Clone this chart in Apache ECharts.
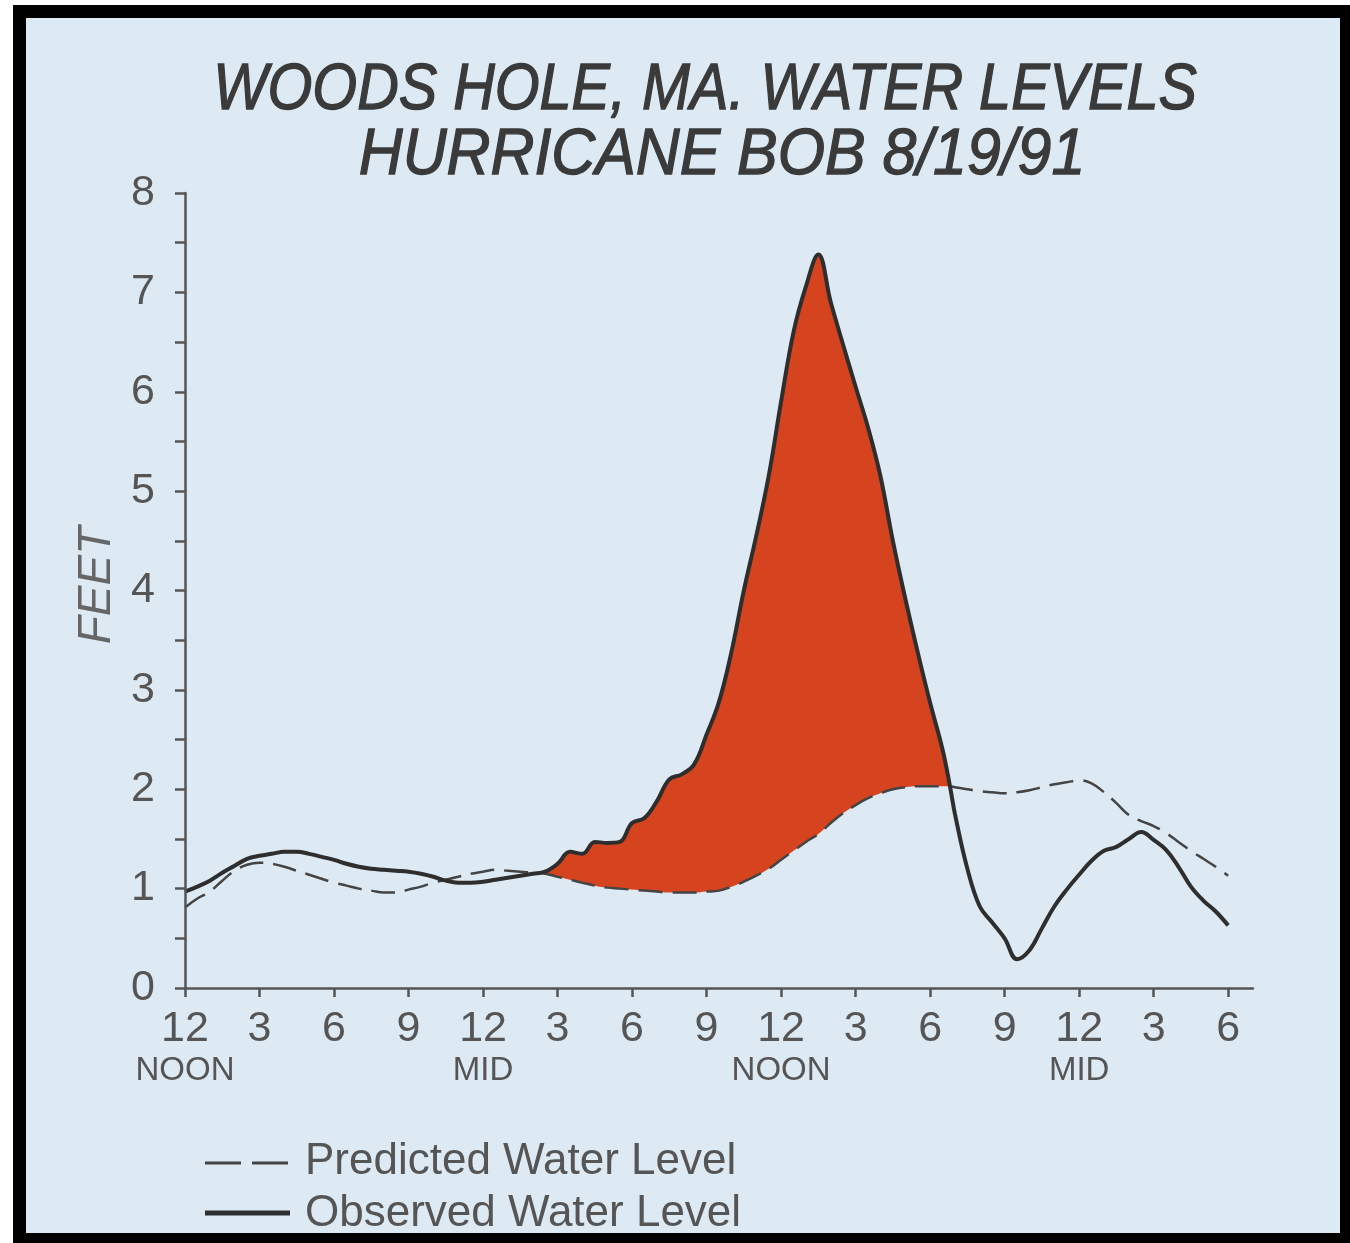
<!DOCTYPE html>
<html>
<head>
<meta charset="utf-8">
<script src="https://cdn.jsdelivr.net/npm/echarts@6/dist/echarts.min.js"></script>
<style>
html,body{margin:0;padding:0;background:#fff;}
#chart{width:1350px;height:1243px;}
</style>
</head>
<body>
<div id="chart"></div>
<script>
// ---- data (hours after 12 noon 8/18/91, feet) ----
const HOURS = [0,0.5,1,1.5,2,2.5,3,3.5,4,4.5,5,5.5,6,6.5,7,7.5,8,8.5,9,9.5,10,10.5,11,11.5,12,12.5,13,13.5,14,14.5,15,15.5,16,16.5,17,17.5,18,18.5,19,19.5,20,20.5,21,21.5,22,22.5,23,23.5,24,24.5,25,25.5,26,26.5,27,27.5,28,28.5,29,29.5,30,30.5,30.8,31,31.5,32,32.5,33,33.5,34,34.5,35,35.5,36,36.5,37,37.5,38,38.5,39,39.5,40,40.5,41,41.5,42];
const OBSERVED = [0.97,1.02,1.08,1.16,1.23,1.30,1.33,1.35,1.37,1.37,1.35,1.32,1.29,1.25,1.22,1.20,1.19,1.18,1.17,1.15,1.12,1.08,1.06,1.06,1.07,1.09,1.11,1.13,1.15,1.17,1.25,1.37,1.35,1.47,1.46,1.47,1.66,1.71,1.88,2.10,2.15,2.25,2.55,2.88,3.38,4.00,4.55,5.15,5.90,6.60,7.06,7.38,6.90,6.47,6.05,5.64,5.15,4.50,3.92,3.38,2.87,2.40,2.03,1.75,1.20,0.82,0.66,0.50,0.29,0.38,0.60,0.82,0.99,1.14,1.28,1.38,1.42,1.50,1.57,1.49,1.39,1.22,1.02,0.88,0.77,0.63];
const PREDICTED = [0.81,0.90,0.97,1.08,1.18,1.24,1.26,1.25,1.22,1.18,1.14,1.10,1.06,1.03,1.00,0.98,0.96,0.96,0.99,1.02,1.06,1.09,1.12,1.15,1.17,1.19,1.18,1.17,1.16,1.15,1.12,1.09,1.06,1.03,1.01,1.00,0.99,0.98,0.97,0.96,0.96,0.96,0.97,0.98,1.02,1.07,1.13,1.20,1.29,1.38,1.47,1.55,1.66,1.76,1.84,1.91,1.96,2.00,2.02,2.03,2.03,2.03,2.03,2.02,2.00,1.98,1.97,1.96,1.97,1.99,2.02,2.05,2.07,2.09,2.06,1.97,1.86,1.74,1.68,1.63,1.56,1.47,1.38,1.30,1.22,1.13];
const SURGE_START = 14.5;   // hour where observed departs from predicted
const SURGE_END = 30.8;     // hour where observed falls back below predicted
const TICK_HOURS = [0,3,6,9,12,15,18,21,24,27,30,33,36,39,42];
const TICK_LABELS = ['12','3','6','9','12','3','6','9','12','3','6','9','12','3','6'];
const TICK_SUBLABELS = ['NOON','','','','MID','','','','NOON','','','','MID','',''];
const TITLE_LINES = ['WOODS HOLE, MA. WATER LEVELS', 'HURRICANE BOB 8/19/91'];
const LEGEND_NAMES = ['Predicted Water Level', 'Observed Water Level'];

// ---- style ----
const BG = '#dde9f3';
const INK = '#555555';
const FONT = '"Liberation Sans", Arial, sans-serif';
const RED = '#d6441f';

const obsPts = HOURS.map((h, i) => [h, OBSERVED[i]]);
const predPts = HOURS.map((h, i) => [h, PREDICTED[i]]);
const surgeTop = HOURS.map((h, i) => [h, (h >= SURGE_START && h <= SURGE_END) ? OBSERVED[i] : null]);
// mask reaches one sample further on each side so no seam is left at the edges of the red band
const surgeBase = HOURS.map((h, i) => [h, (h >= SURGE_START - 0.5 && h <= SURGE_END + 0.7) ? PREDICTED[i] : null]);
const SMOOTH = 0.4;

function titleText(txt, x, y, sx) {
  return {type: 'text', z: 5, x: x, y: y, scaleX: sx, silent: true,
    style: {text: txt, font: 'italic 64px ' + FONT, fill: '#3a3a3a', stroke: '#3a3a3a', lineWidth: 1.3,
      textAlign: 'center', textVerticalAlign: 'middle'}};
}

const chart = echarts.init(document.getElementById('chart'), null, {renderer: 'canvas'});
chart.setOption({
  backgroundColor: '#ffffff',
  animation: false,
  graphic: [
    {type: 'rect', z: -20, silent: true, shape: {x: 13, y: 5, width: 1337, height: 1238}, style: {fill: '#000'}},
    {type: 'rect', z: -19, silent: true, shape: {x: 26, y: 18, width: 1314, height: 1215}, style: {fill: BG}},
    titleText(TITLE_LINES[0], 705, 91, 0.90),
    titleText(TITLE_LINES[1], 722, 156, 0.95),
    // legend
    {type: 'line', z: 5, silent: true, shape: {x1: 205, y1: 1163, x2: 290, y2: 1163},
      style: {stroke: '#444', lineWidth: 3, lineDash: [36, 11]}},
    {type: 'text', z: 5, x: 305, y: 1162, silent: true,
      style: {text: LEGEND_NAMES[0], font: '44px ' + FONT, fill: INK, textVerticalAlign: 'middle'}},
    {type: 'line', z: 5, silent: true, shape: {x1: 205, y1: 1213, x2: 290, y2: 1213},
      style: {stroke: '#2e2e2e', lineWidth: 5}},
    {type: 'text', z: 5, x: 305, y: 1214, silent: true,
      style: {text: LEGEND_NAMES[1], font: '44px ' + FONT, fill: INK, textVerticalAlign: 'middle'}}
  ],
  grid: {left: 185, right: 97, top: 193, bottom: 255},
  xAxis: {
    type: 'value', min: 0, max: 43, z: 10,
    axisLine: {lineStyle: {color: INK, width: 2.5}},
    axisTick: {customValues: TICK_HOURS, length: 9, lineStyle: {color: INK, width: 2.5}},
    splitLine: {show: false},
    axisLabel: {
      customValues: TICK_HOURS, margin: 19,
      formatter: function (v) {
        const i = TICK_HOURS.indexOf(v);
        if (i < 0) return '';
        return TICK_SUBLABELS[i] ? '{n|' + TICK_LABELS[i] + '}\n{s|' + TICK_SUBLABELS[i] + '}' : '{n|' + TICK_LABELS[i] + '}';
      },
      rich: {
        n: {fontSize: 43, lineHeight: 44, color: INK, fontFamily: FONT},
        s: {fontSize: 33, lineHeight: 40, color: INK, fontFamily: FONT}
      }
    }
  },
  yAxis: {
    type: 'value', min: 0, max: 8, interval: 1, z: 10,
    name: 'FEET', nameLocation: 'middle', nameRotate: 90, nameGap: 58,
    nameTextStyle: {fontSize: 46, fontStyle: 'italic', color: '#666', fontFamily: FONT, padding: [0, 0, 0, 10]},
    axisLine: {show: true, lineStyle: {color: INK, width: 2.5}},
    axisTick: {show: true, length: 10, lineStyle: {color: INK, width: 2.5}},
    minorTick: {show: true, splitNumber: 2, length: 10, lineStyle: {color: INK, width: 2.5}},
    splitLine: {show: false},
    axisLabel: {margin: 30, fontSize: 43, color: INK, fontFamily: FONT}
  },
  series: [
    {name: 'surge', type: 'line', data: surgeTop, smooth: SMOOTH, symbol: 'none', silent: true,
     lineStyle: {width: 0, opacity: 0}, areaStyle: {color: RED, opacity: 1, origin: 'start'}},
    {name: 'surgeMask', type: 'line', data: surgeBase, smooth: SMOOTH, symbol: 'none', silent: true,
     lineStyle: {width: 0, opacity: 0}, areaStyle: {color: BG, opacity: 1, origin: 'start'}},
    {name: LEGEND_NAMES[0], type: 'line', data: predPts, smooth: SMOOTH, symbol: 'none',
     lineStyle: {color: '#444', width: 2.5, type: [24, 10]}},
    {name: LEGEND_NAMES[1], type: 'line', data: obsPts, smooth: SMOOTH, symbol: 'none',
     lineStyle: {color: '#2e2e2e', width: 4}}
  ]
});
</script>
</body>
</html>
